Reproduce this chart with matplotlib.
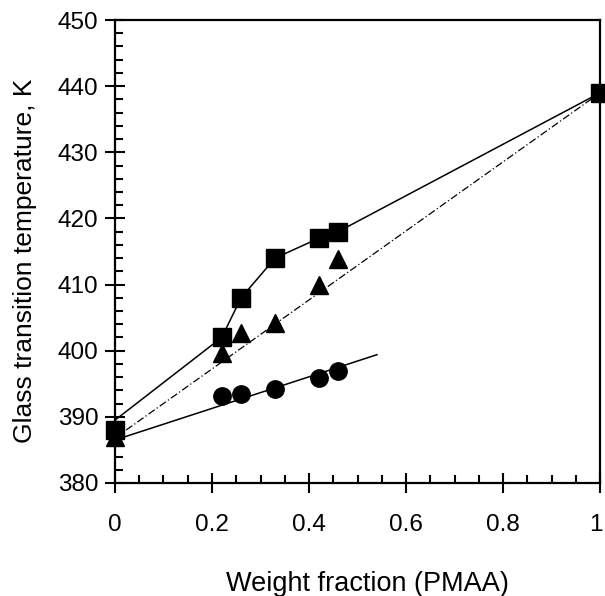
import matplotlib.pyplot as plt
import numpy as np
from matplotlib.ticker import MultipleLocator
from matplotlib.transforms import ScaledTranslation

plt.rcParams['font.family'] = ['Liberation Sans', 'DejaVu Sans']

# squares
sq_x = [0, 0.22, 0.26, 0.33, 0.42, 0.46, 1.0]
sq_y = [388, 402, 408, 414, 417, 418, 439]
sq_line_y = [389.5, 402, 408, 414, 417, 418, 439]

# triangles
tri_x = [0, 0.22, 0.26, 0.33, 0.42, 0.46]
tri_y = [387, 399.6, 402.7, 404.2, 409.9, 413.9]

# circles
circ_x = [0.22, 0.26, 0.33, 0.42, 0.46]
circ_y = [393.2, 393.4, 394.2, 395.9, 396.9]

# straight lines
dashdot_x = [0, 1.0]
dashdot_y = [386.8, 439]
circ_line_x = [0, 0.54]
circ_line_y = [386.5, 399.4]

xtick_vals = [0, 0.2, 0.4, 0.6, 0.8, 1.0]
xtick_labels = ['0', '0.2', '0.4', '0.6', '0.8', '1']

fig = plt.figure(figsize=(6.05, 5.96), dpi=100)
ax = fig.add_axes([0.190, 0.1896, 0.802, 0.7768])

ax.plot(dashdot_x, dashdot_y, color='black', lw=0.9, ls=(0, (6, 2, 1, 2)))
ax.plot(sq_x, sq_line_y, color='black', lw=1.1)
ax.plot(circ_line_x, circ_line_y, color='black', lw=1.1)

ax.plot(tri_x, tri_y, ls='none', marker='^', ms=13, color='black', clip_on=False)
ax.plot(circ_x, circ_y, ls='none', marker='o', ms=12.5, color='black', clip_on=False)
ax.plot(sq_x, sq_y, ls='none', marker='s', ms=12.5, color='black', clip_on=False, zorder=5)

ax.set_xlim(0, 1)
ax.set_ylim(380, 450)
ax.set_xticks(xtick_vals)
ax.set_xticklabels(xtick_labels)
ax.xaxis.set_minor_locator(MultipleLocator(0.05))
ax.yaxis.set_major_locator(MultipleLocator(10))
ax.yaxis.set_minor_locator(MultipleLocator(2))

ax.tick_params(which='major', direction='inout', length=14, width=1.5, labelsize=17.5)
ax.tick_params(which='minor', direction='in', length=6, width=1.5)
ax.tick_params(axis='x', which='major', pad=15)
ax.tick_params(axis='y', which='major', pad=5)

# last x label sits against the right edge, nudge it in a little
last = ax.get_xticklabels()[-1]
last.set_transform(last.get_transform() + ScaledTranslation(-3 / 72, 0, fig.dpi_scale_trans))

for s in ax.spines.values():
    s.set_linewidth(1.6)

ax.set_xlabel('Weight fraction (PMAA)', fontsize=19.5)
ax.set_ylabel('Glass transition temperature, K', fontsize=19)
ax.xaxis.set_label_coords(0.52, -0.19)
ax.yaxis.set_label_coords(-0.16, 0.479)

fig.savefig('out.png', dpi=100)
